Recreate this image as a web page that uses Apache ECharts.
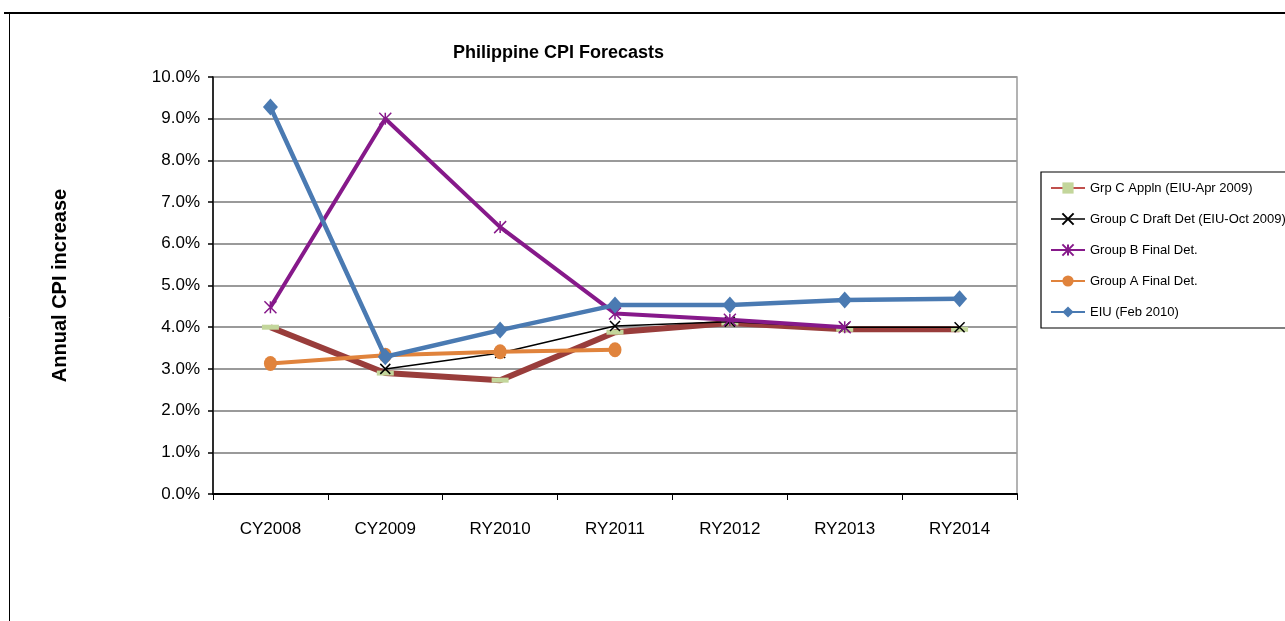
<!DOCTYPE html>
<html>
<head>
<meta charset="utf-8">
<script src="https://cdn.jsdelivr.net/npm/echarts@6/dist/echarts.min.js"></script>
<style>
html,body{margin:0;padding:0;background:#fff;}
#chart{width:1285px;height:621px;}
</style>
</head>
<body>
<div id="chart"></div>
<script>
var categories = ['CY2008','CY2009','RY2010','RY2011','RY2012','RY2013','RY2014'];
var grpCAppln   = [4.0, 2.9, 2.73, 3.88, 4.1, 3.95, 3.95];
var grpCDraft   = [null, 3.0, 3.38, 4.03, 4.13, 4.0, 4.0];
var grpBFinal   = [4.48, 9.0, 6.4, 4.33, 4.18, 4.0, null];
var grpAFinal   = [3.13, 3.33, 3.41, 3.46, null, null, null];
var eiuFeb2010  = [9.28, 3.29, 3.93, 4.53, 4.53, 4.65, 4.68];
var seriesNames = ['Grp C Appln (EIU-Apr 2009)','Group C Draft Det (EIU-Oct 2009)','Group B Final Det.','Group A Final Det.','EIU (Feb 2010)'];

var FONT = "'Liberation Sans', Arial, sans-serif";
var X_PATH = 'path://M0,0L10,10M10,0L0,10';
var STAR_PATH = 'path://M0,0L10,10M10,0L0,10M5,0L5,10';

var chart = echarts.init(document.getElementById('chart'), null, {renderer:'canvas'});
var option = {
  animation: false,
  backgroundColor: '#ffffff',
  textStyle: {fontFamily: FONT},
  title: {
    text: 'Philippine CPI Forecasts',
    left: 448, top: 39,
    textStyle: {fontFamily: FONT, fontSize: 18, fontWeight: 'bold', color: '#000'}
  },
  grid: {
    left: 213, right: 268, top: 77, bottom: 127,
    show: true, borderColor: '#9a9a9a', borderWidth: 1.5, backgroundColor: 'transparent'
  },
  legend: {
    orient: 'vertical',
    left: 1041, top: 172,
    padding: [9, 40, 9, 9],
    borderColor: '#000', borderWidth: 1.2,
    itemWidth: 34, itemHeight: 14, itemGap: 17,
    textStyle: {fontFamily: FONT, fontSize: 13, color: '#000', padding: [0,0,0,0], lineHeight: 14},
    data: [
      {name: seriesNames[0], lineStyle: {width: 2, color: '#c0504d'}, itemStyle: {color: '#c3d69b'}},
      {name: seriesNames[1], lineStyle: {width: 1.5, color: '#000'}},
      {name: seriesNames[2], lineStyle: {width: 2, color: '#86198a'}},
      {name: seriesNames[3], lineStyle: {width: 2, color: '#e0833c'}},
      {name: seriesNames[4], lineStyle: {width: 2, color: '#4a7ab2'}}
    ]
  },
  xAxis: {
    type: 'category',
    data: categories,
    boundaryGap: true,
    axisLine: {lineStyle: {color: '#000', width: 2}},
    axisTick: {show: true, length: 6, lineStyle: {color: '#000', width: 1}},
    axisLabel: {fontFamily: FONT, fontSize: 17, color: '#000', margin: 27},
    splitLine: {show: false}
  },
  yAxis: {
    type: 'value',
    min: 0, max: 10, interval: 1,
    name: 'Annual CPI increase',
    nameLocation: 'middle',
    nameRotate: 90,
    nameGap: 143,
    nameTextStyle: {fontFamily: FONT, fontSize: 20, fontWeight: 'bold', color: '#000'},
    axisLine: {show: true, lineStyle: {color: '#000', width: 1.5}},
    axisTick: {show: true, length: 5, lineStyle: {color: '#000', width: 1.5}},
    axisLabel: {fontFamily: FONT, fontSize: 17, color: '#000', margin: 13,
      formatter: function(v){ return v.toFixed(1) + '%'; }},
    splitLine: {show: true, lineStyle: {color: '#9a9a9a', width: 1.8}}
  },
  series: [
    {
      name: seriesNames[0], type: 'line', data: grpCAppln,
      lineStyle: {color: '#993d3b', width: 6},
      itemStyle: {color: '#c3d69b'},
      symbol: 'rect', symbolSize: [17, 5], showSymbol: true,
      connectNulls: false, z: 2
    },
    {
      name: seriesNames[1], type: 'line', data: grpCDraft,
      lineStyle: {color: '#000', width: 1.5},
      itemStyle: {color: '#000', borderColor: '#000', borderWidth: 1.5},
      symbol: X_PATH, symbolSize: 10, showSymbol: true,
      connectNulls: false, z: 3
    },
    {
      name: seriesNames[2], type: 'line', data: grpBFinal,
      lineStyle: {color: '#86198a', width: 4},
      itemStyle: {color: '#86198a', borderColor: '#86198a', borderWidth: 1.5},
      symbol: STAR_PATH, symbolSize: 12, showSymbol: true,
      connectNulls: false, z: 4
    },
    {
      name: seriesNames[3], type: 'line', data: grpAFinal,
      lineStyle: {color: '#e0833c', width: 4},
      itemStyle: {color: '#e0833c'},
      symbol: 'circle', symbolSize: [13, 15], showSymbol: true,
      connectNulls: false, z: 5
    },
    {
      name: seriesNames[4], type: 'line', data: eiuFeb2010,
      lineStyle: {color: '#4a7ab2', width: 4.5},
      itemStyle: {color: '#4a7ab2'},
      symbol: 'diamond', symbolSize: [15, 17], showSymbol: true,
      connectNulls: false, z: 6
    }
  ],
  graphic: [
    {type: 'line', silent: true, shape: {x1: 4, y1: 13, x2: 1290, y2: 13}, style: {stroke: '#000', lineWidth: 2}},
    {type: 'line', silent: true, shape: {x1: 9.5, y1: 13, x2: 9.5, y2: 630}, style: {stroke: '#000', lineWidth: 1}}
  ]
};
chart.setOption(option);
</script>
</body>
</html>
